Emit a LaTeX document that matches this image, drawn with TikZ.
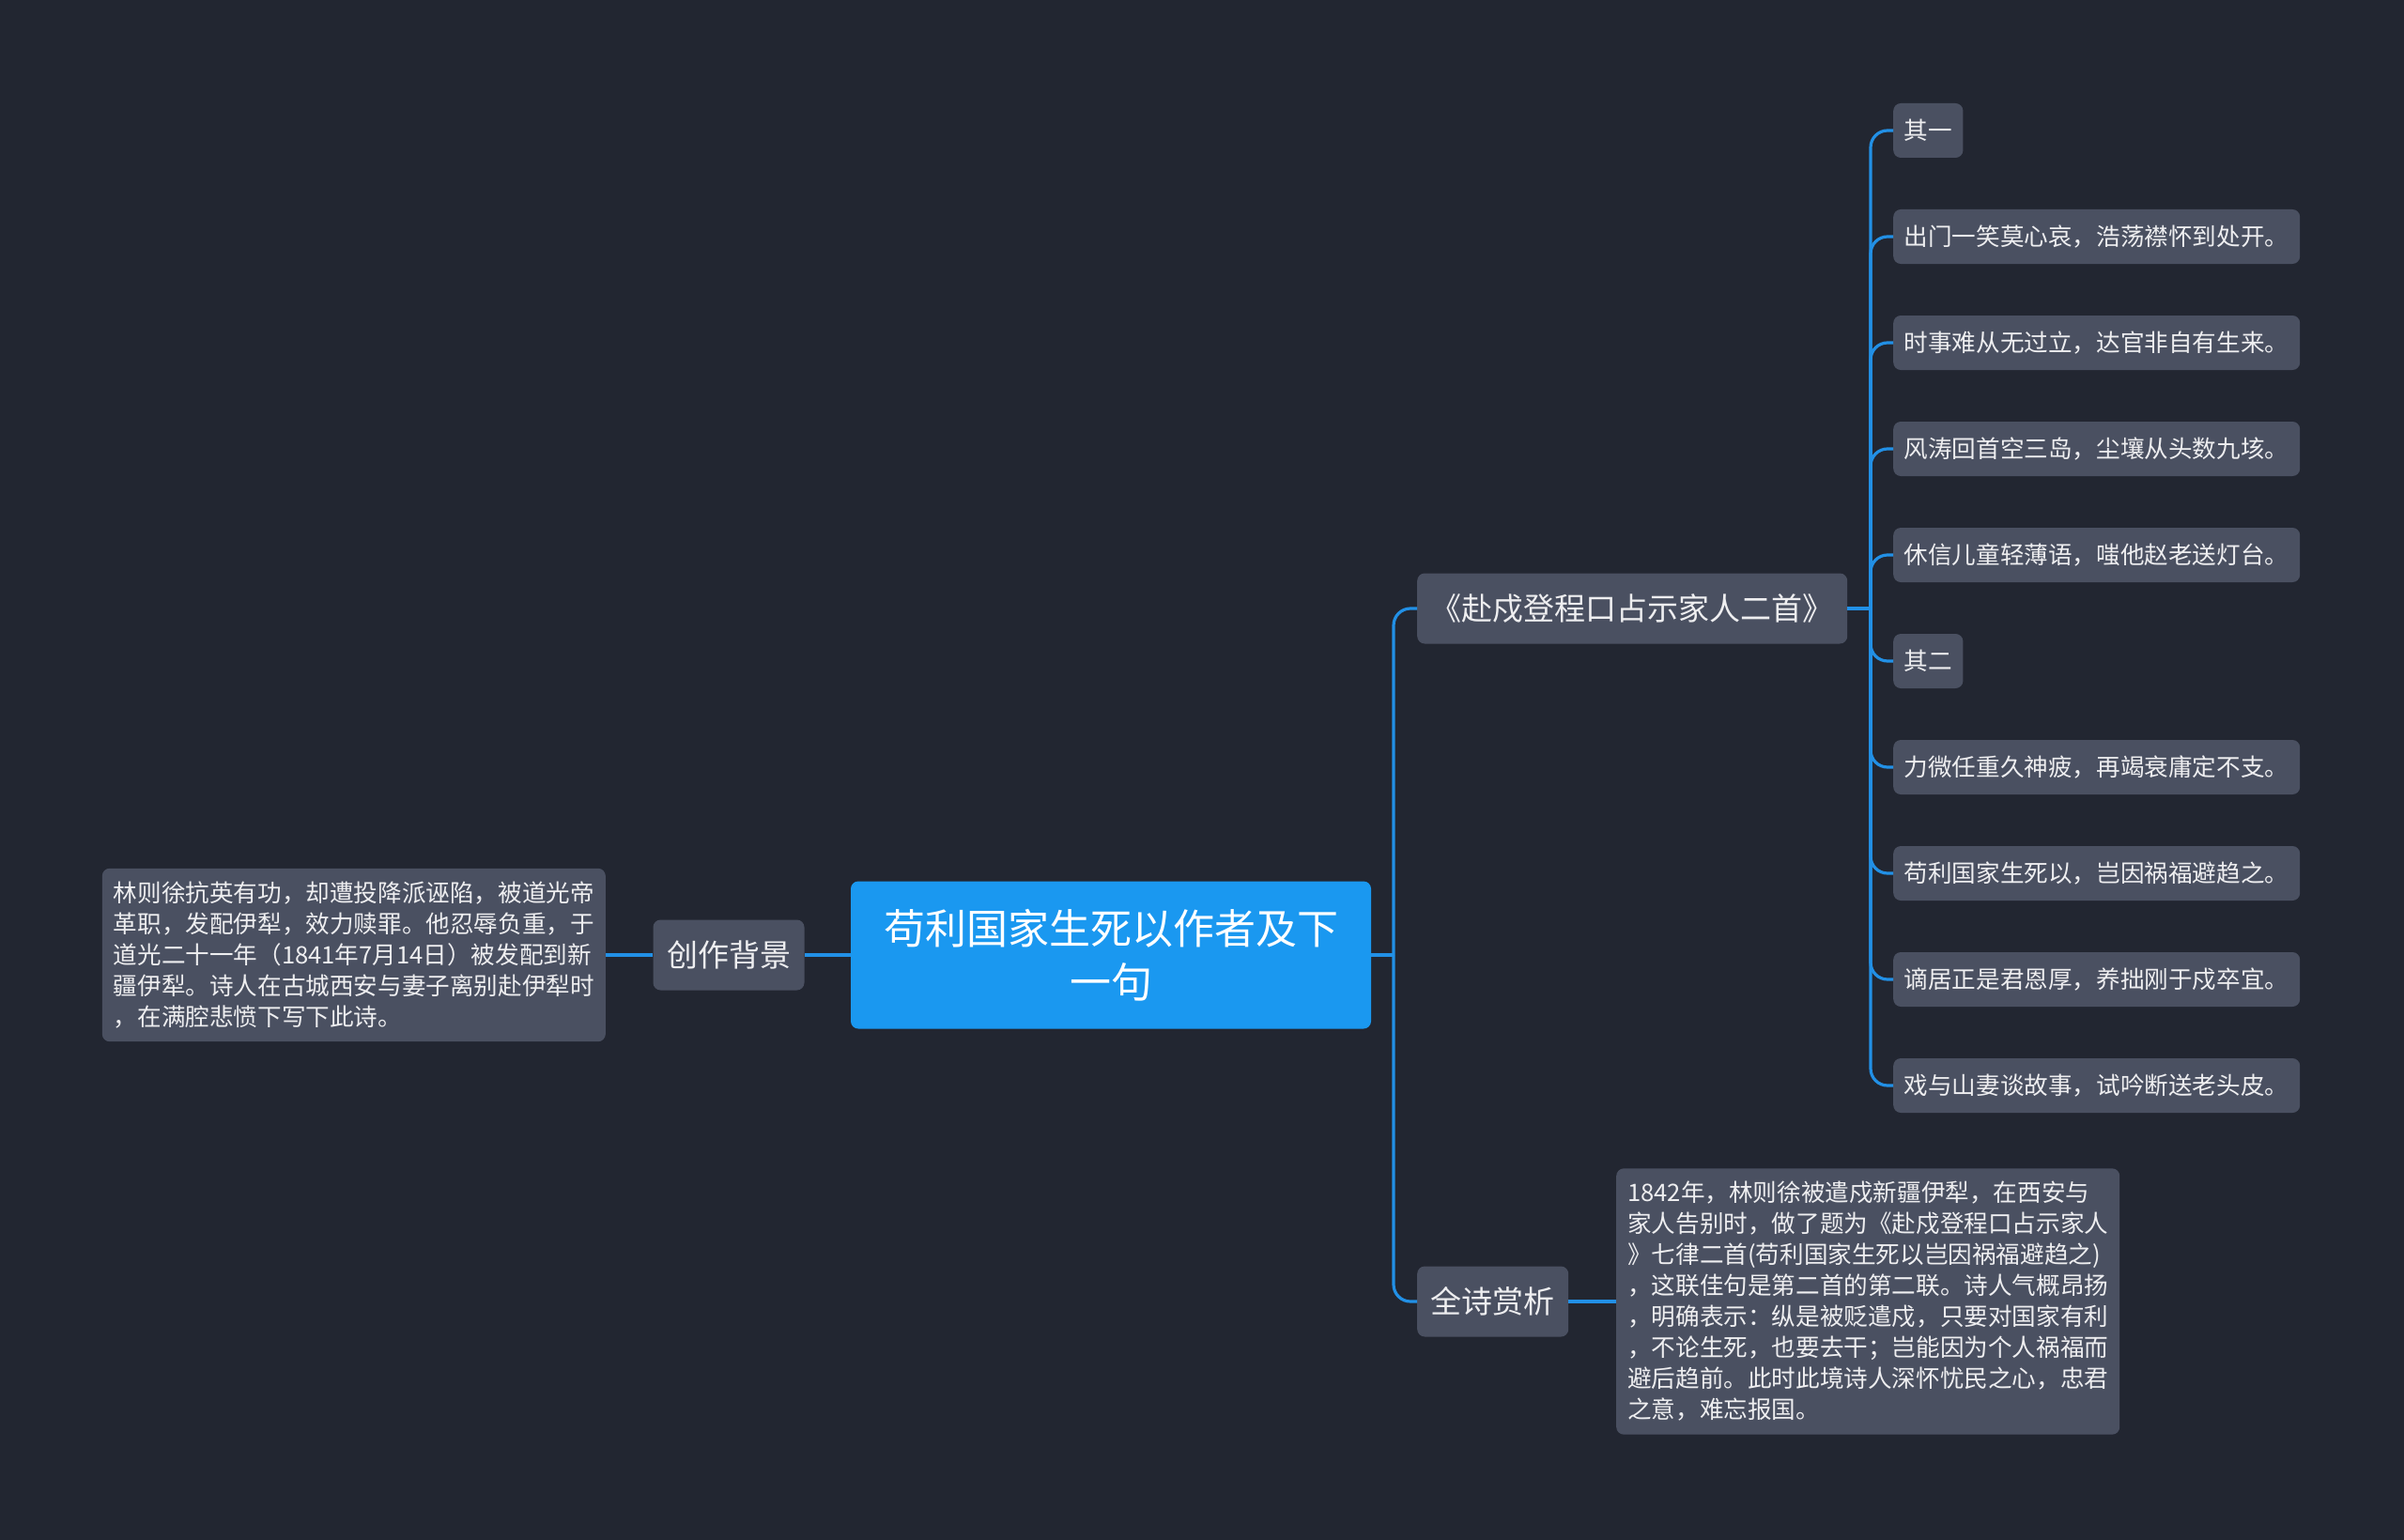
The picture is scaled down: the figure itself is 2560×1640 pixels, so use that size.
\documentclass[tikz,border=0pt]{standalone}
\usepackage{fontspec}
\setmainfont{Noto Sans CJK SC}
\usepackage{xcolor}
\usepackage{tikz}
\usetikzlibrary{positioning}
\definecolor{bgdark}{HTML}{222631}
\definecolor{boxgray}{HTML}{4A5061}
\definecolor{rootblue}{HTML}{1A98F0}
\definecolor{linkblue}{HTML}{2290E6}
\definecolor{txtwhite}{HTML}{EEEEF0}
\tikzset{
  bx/.style    ={fill=boxgray,rounded corners=8pt,text=txtwhite,inner ysep=0pt},
  topic/.style ={fill=rootblue,rounded corners=8pt,text=white,align=center,
                 minimum width=554pt,minimum height=157pt,font=\fontsize{44}{57}\selectfont},
  sub/.style   ={bx,inner xsep=14pt,minimum height=75pt,font=\fontsize{33}{38}\selectfont},
  verse/.style ={bx,anchor=west,inner xsep=11.5pt,minimum height=58pt,
                 font=\fontsize{25.6}{30}\selectfont},
  vline/.style ={verse,text width=410pt,align=left},
  para/.style  ={bx,inner xsep=12pt,inner ysep=14pt,text width=512pt,align=left,
                 font=\fontsize{25.6}{33}\selectfont},
  conn/.style  ={draw=linkblue,line width=3.2pt,rounded corners=18pt},
}

\begin{document}
\begin{tikzpicture}[x=1pt,y=-1pt]
  \fill[bgdark] (0,0) rectangle (2560,1640);
  \useasboundingbox (0,0) rectangle (2560,1640);

  \node[topic] (root) at (1183,1017) {苟利国家生死以作者及下\\一句};

  \node[sub,minimum width=161pt] (bg) at (776,1017) {创作背景};
  \node[para,anchor=east] (bgtxt) at (645,1017) {林则徐抗英有功，却遭投降派诬陷，被道光帝\\革职，发配伊犁，效力赎罪。他忍辱负重，于\\道光二十一年（1841年7月14日）被发配到新\\疆伊犁。诗人在古城西安与妻子离别赴伊犁时\\，在满腔悲愤下写下此诗。};

  \node[sub,anchor=west,minimum width=458pt] (poem) at (1509,648) {《赴戍登程口占示家人二首》};
  \node[sub,anchor=west,minimum width=161pt] (appr) at (1509,1386) {全诗赏析};
  \node[para,anchor=west] (apprtxt) at (1721,1386) {1842年，林则徐被遣戍新疆伊犁，在西安与\\家人告别时，做了题为《赴戍登程口占示家人\\》七律二首(苟利国家生死以岂因祸福避趋之)\\，这联佳句是第二首的第二联。诗人气概昂扬\\，明确表示：纵是被贬遣戍，只要对国家有利\\，不论生死，也要去干；岂能因为个人祸福而\\避后趋前。此时此境诗人深怀忧民之心，忠君\\之意，难忘报国。};

  \node[verse] (v0) at (2016,139) {其一};
  \node[vline] (v1) at (2016,252) {出门一笑莫心哀，浩荡襟怀到处开。};
  \node[vline] (v2) at (2016,365) {时事难从无过立，达官非自有生来。};
  \node[vline] (v3) at (2016,478) {风涛回首空三岛，尘壤从头数九垓。};
  \node[vline] (v4) at (2016,591) {休信儿童轻薄语，嗤他赵老送灯台。};
  \node[verse] (v5) at (2016,704) {其二};
  \node[vline] (v6) at (2016,817) {力微任重久神疲，再竭衰庸定不支。};
  \node[vline] (v7) at (2016,930) {苟利国家生死以，岂因祸福避趋之。};
  \node[vline] (v8) at (2016,1043) {谪居正是君恩厚，养拙刚于戍卒宜。};
  \node[vline] (v9) at (2016,1156) {戏与山妻谈故事，试吟断送老头皮。};

  \coordinate (jr) at (1484,1017);
  \coordinate (jp) at (1992,648);

  \draw[conn] (root.west) -- (bg.east);
  \draw[conn] (bg.west) -- (bgtxt.east);
  \draw[conn] (root.east) -- (jr);
  \draw[conn] (jr) |- (poem.west);
  \draw[conn] (jr) |- (appr.west);
  \draw[conn] (appr.east) -- (apprtxt.west);
  \draw[conn] (poem.east) -- (jp);
  \foreach \v in {v0,v1,v2,v3,v4,v5,v6,v7,v8,v9}
    \draw[conn] (jp) |- (\v.west);
\end{tikzpicture}
\end{document}
